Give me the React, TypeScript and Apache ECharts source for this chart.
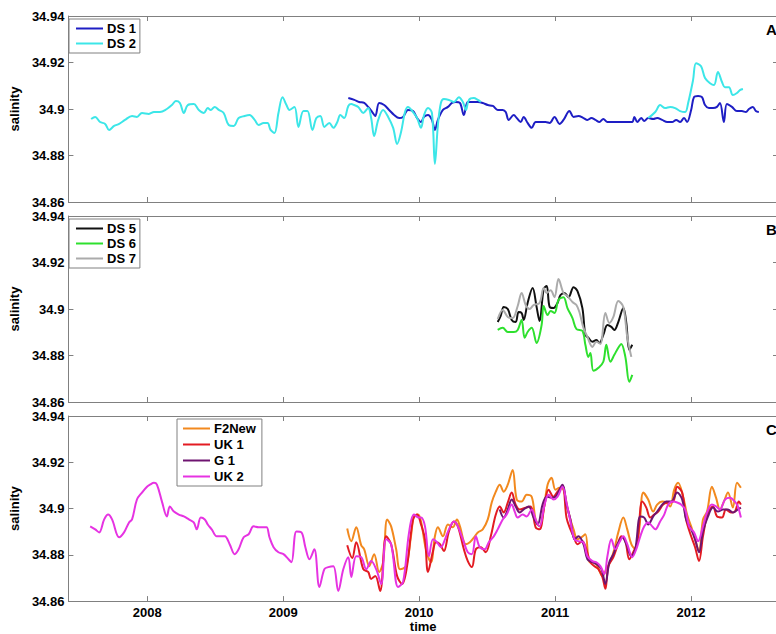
import { useEffect, useRef } from "react";
import * as echarts from "echarts";

// ---------- data: [decimal year, salinity] ----------
const yearTicks = [2008, 2009, 2010, 2011, 2012];
const X_MIN = 2007.42;
const X_MAX = 2012.64;
const Y_MIN = 34.86;
const Y_MAX = 34.94;
const Y_STEP = 0.02;

const ds1 = [
  [2009.479, 34.9047], [2009.523, 34.9039], [2009.559, 34.903], [2009.596, 34.9026], [2009.625, 34.9009],
  [2009.655, 34.8987], [2009.677, 34.897], [2009.706, 34.9026], [2009.743, 34.9017], [2009.779, 34.8996],
  [2009.816, 34.8974], [2009.853, 34.8961], [2009.882, 34.8966], [2009.918, 34.8996], [2009.955, 34.8991],
  [2009.985, 34.8961], [2010.014, 34.8944], [2010.036, 34.8966], [2010.065, 34.8974], [2010.094, 34.8953],
  [2010.116, 34.891], [2010.138, 34.8953], [2010.175, 34.8996], [2010.212, 34.9009], [2010.241, 34.9026],
  [2010.27, 34.903], [2010.3, 34.9026], [2010.329, 34.8974], [2010.358, 34.903], [2010.395, 34.903],
  [2010.432, 34.903], [2010.468, 34.9026], [2010.505, 34.9017], [2010.542, 34.9013], [2010.578, 34.8996],
  [2010.615, 34.8996], [2010.637, 34.8987], [2010.659, 34.8953], [2010.696, 34.8974], [2010.718, 34.8961],
  [2010.747, 34.8944], [2010.769, 34.8966], [2010.798, 34.894], [2010.828, 34.8919], [2010.857, 34.8944],
  [2010.894, 34.8944], [2010.93, 34.8944], [2010.96, 34.894], [2010.996, 34.8966], [2011.033, 34.8936],
  [2011.062, 34.8953], [2011.106, 34.8991], [2011.136, 34.8966], [2011.172, 34.897], [2011.209, 34.8961],
  [2011.238, 34.8953], [2011.267, 34.8961], [2011.297, 34.8953], [2011.326, 34.8944], [2011.355, 34.8957],
  [2011.385, 34.8944], [2011.421, 34.8944], [2011.458, 34.8944], [2011.495, 34.8944], [2011.531, 34.8944],
  [2011.568, 34.8944], [2011.583, 34.8966], [2011.605, 34.8944], [2011.634, 34.8961], [2011.656, 34.8948],
  [2011.685, 34.8961], [2011.722, 34.8957], [2011.751, 34.8961], [2011.788, 34.8953], [2011.825, 34.8944],
  [2011.861, 34.8944], [2011.891, 34.8953], [2011.92, 34.8944], [2011.949, 34.8961], [2011.971, 34.8944],
  [2012.001, 34.8996], [2012.022, 34.9051], [2012.052, 34.9056], [2012.081, 34.9051], [2012.103, 34.9017],
  [2012.132, 34.9004], [2012.162, 34.9004], [2012.191, 34.9009], [2012.213, 34.9026], [2012.242, 34.8944],
  [2012.264, 34.9021], [2012.301, 34.9009], [2012.338, 34.8991], [2012.374, 34.8991], [2012.404, 34.8987],
  [2012.426, 34.9], [2012.455, 34.9009], [2012.477, 34.8991], [2012.499, 34.8987],
];

const ds2 = [
  [2007.587, 34.8957], [2007.617, 34.8966], [2007.653, 34.8944], [2007.69, 34.8936], [2007.719, 34.891],
  [2007.756, 34.8927], [2007.793, 34.8936], [2007.836, 34.8953], [2007.888, 34.897], [2007.924, 34.8966],
  [2007.961, 34.8983], [2008.012, 34.8979], [2008.049, 34.8987], [2008.093, 34.8987], [2008.144, 34.9],
  [2008.181, 34.9017], [2008.21, 34.9034], [2008.24, 34.9026], [2008.269, 34.8983], [2008.298, 34.9017],
  [2008.342, 34.9021], [2008.379, 34.8996], [2008.416, 34.8983], [2008.445, 34.9004], [2008.467, 34.8996],
  [2008.496, 34.9009], [2008.526, 34.8996], [2008.562, 34.8983], [2008.599, 34.8931], [2008.636, 34.8927],
  [2008.672, 34.8961], [2008.716, 34.897], [2008.753, 34.8974], [2008.79, 34.8953], [2008.819, 34.8931],
  [2008.856, 34.894], [2008.885, 34.894], [2008.907, 34.891], [2008.936, 34.8897], [2008.965, 34.8983],
  [2008.995, 34.9051], [2009.024, 34.9017], [2009.046, 34.8996], [2009.083, 34.9009], [2009.112, 34.8923],
  [2009.149, 34.8991], [2009.178, 34.8991], [2009.215, 34.891], [2009.244, 34.8961], [2009.273, 34.897],
  [2009.303, 34.8923], [2009.339, 34.894], [2009.369, 34.8919], [2009.398, 34.8944], [2009.42, 34.8974],
  [2009.449, 34.8961], [2009.479, 34.9013], [2009.501, 34.9021], [2009.523, 34.9017], [2009.552, 34.9009],
  [2009.589, 34.8983], [2009.625, 34.9004], [2009.647, 34.8961], [2009.669, 34.8884], [2009.699, 34.8953],
  [2009.735, 34.8996], [2009.772, 34.8966], [2009.809, 34.8919], [2009.838, 34.885], [2009.867, 34.8901],
  [2009.896, 34.8987], [2009.918, 34.9009], [2009.955, 34.8987], [2009.985, 34.8961], [2010.014, 34.8919],
  [2010.036, 34.8974], [2010.065, 34.9004], [2010.094, 34.8983], [2010.116, 34.8764], [2010.138, 34.8931],
  [2010.16, 34.9026], [2010.182, 34.9043], [2010.219, 34.9039], [2010.256, 34.903], [2010.292, 34.9051],
  [2010.322, 34.903], [2010.344, 34.8996], [2010.366, 34.9039], [2010.402, 34.9047], [2010.432, 34.9039],
  [2010.454, 34.903],
  [2010.46, null],
  [2011.685, 34.8961], [2011.737, 34.8987], [2011.773, 34.9017], [2011.81, 34.9004], [2011.847, 34.9009],
  [2011.883, 34.9004], [2011.92, 34.8991], [2011.957, 34.8987], [2011.979, 34.9026], [2012.015, 34.9124],
  [2012.037, 34.9197], [2012.074, 34.9184], [2012.103, 34.9133], [2012.14, 34.9111], [2012.169, 34.9103],
  [2012.198, 34.9159], [2012.228, 34.9116], [2012.25, 34.9094], [2012.279, 34.9094], [2012.308, 34.906],
  [2012.338, 34.9069], [2012.36, 34.9081], [2012.382, 34.9086],
];

const ds5 = [
  [2010.578, 34.8944], [2010.6, 34.897], [2010.622, 34.9009], [2010.652, 34.9], [2010.681, 34.8953],
  [2010.71, 34.8944], [2010.732, 34.8987], [2010.754, 34.8983], [2010.769, 34.8953], [2010.798, 34.9026],
  [2010.835, 34.909], [2010.864, 34.9009], [2010.886, 34.8948], [2010.916, 34.9086], [2010.938, 34.9099],
  [2010.96, 34.9009], [2010.989, 34.9004], [2011.018, 34.9026], [2011.04, 34.906], [2011.069, 34.9069],
  [2011.099, 34.9051], [2011.136, 34.9094], [2011.165, 34.9077], [2011.201, 34.9004], [2011.223, 34.8889],
  [2011.245, 34.8876], [2011.275, 34.8859], [2011.304, 34.8867], [2011.326, 34.8854], [2011.355, 34.8889],
  [2011.385, 34.8931], [2011.414, 34.8923], [2011.436, 34.891], [2011.465, 34.8944], [2011.502, 34.9004],
  [2011.524, 34.894], [2011.546, 34.8824], [2011.568, 34.8846],
];

const ds6 = [
  [2010.578, 34.891], [2010.615, 34.8919], [2010.652, 34.8901], [2010.696, 34.8901], [2010.725, 34.891],
  [2010.754, 34.8953], [2010.776, 34.8876], [2010.798, 34.8901], [2010.828, 34.8919], [2010.864, 34.8854],
  [2010.901, 34.8931], [2010.916, 34.9013], [2010.945, 34.8974], [2010.967, 34.8991], [2010.996, 34.8983],
  [2011.025, 34.9039], [2011.062, 34.9051], [2011.091, 34.9004], [2011.128, 34.8961], [2011.157, 34.8914],
  [2011.201, 34.8906], [2011.223, 34.8846], [2011.245, 34.8794], [2011.26, 34.8811], [2011.282, 34.8734],
  [2011.319, 34.8747], [2011.355, 34.8773], [2011.377, 34.8846], [2011.407, 34.8773], [2011.436, 34.8803],
  [2011.465, 34.8833], [2011.487, 34.885], [2011.517, 34.8794], [2011.546, 34.8687], [2011.568, 34.8717],
];

const ds7 = [
  [2010.578, 34.8957], [2010.615, 34.8996], [2010.652, 34.8966], [2010.688, 34.8961], [2010.725, 34.9013],
  [2010.754, 34.9069], [2010.784, 34.9017], [2010.813, 34.9], [2010.842, 34.9017], [2010.886, 34.9026],
  [2010.916, 34.909], [2010.938, 34.9069], [2010.967, 34.9081], [2010.996, 34.9051], [2011.025, 34.9129],
  [2011.062, 34.9069], [2011.091, 34.9056], [2011.128, 34.903], [2011.157, 34.9017], [2011.179, 34.8987],
  [2011.209, 34.8919], [2011.238, 34.888], [2011.275, 34.8837], [2011.304, 34.8859], [2011.333, 34.885],
  [2011.37, 34.8983], [2011.399, 34.894], [2011.429, 34.8966], [2011.465, 34.9034], [2011.502, 34.9009],
  [2011.531, 34.888], [2011.561, 34.8794],
];

const f2new = [
  [2009.471, 34.8914], [2009.501, 34.8859], [2009.537, 34.8919], [2009.574, 34.8841], [2009.596, 34.8824],
  [2009.633, 34.8751], [2009.669, 34.8803], [2009.706, 34.8726], [2009.735, 34.8768], [2009.765, 34.8953],
  [2009.794, 34.8923], [2009.831, 34.8824], [2009.86, 34.8738], [2009.904, 34.8751], [2009.94, 34.888],
  [2009.962, 34.8966], [2009.992, 34.8974], [2010.014, 34.8944], [2010.05, 34.8824], [2010.087, 34.8768],
  [2010.116, 34.888], [2010.138, 34.8919], [2010.175, 34.888], [2010.212, 34.8931], [2010.248, 34.8919],
  [2010.278, 34.8953], [2010.3, 34.8923], [2010.344, 34.8846], [2010.373, 34.8854], [2010.41, 34.888],
  [2010.432, 34.8897], [2010.468, 34.891], [2010.505, 34.8953], [2010.534, 34.9026], [2010.564, 34.9073],
  [2010.593, 34.9103], [2010.622, 34.9073], [2010.652, 34.9103], [2010.688, 34.9167], [2010.718, 34.9039],
  [2010.754, 34.903], [2010.791, 34.906], [2010.828, 34.9051], [2010.857, 34.8953], [2010.886, 34.8923],
  [2010.916, 34.8996], [2010.945, 34.9103], [2010.974, 34.9133], [2011.003, 34.9081], [2011.033, 34.909],
  [2011.062, 34.9081], [2011.091, 34.9004], [2011.113, 34.8953], [2011.136, 34.891], [2011.165, 34.8867],
  [2011.194, 34.8876], [2011.223, 34.8889], [2011.253, 34.8768], [2011.282, 34.8768], [2011.311, 34.8751],
  [2011.348, 34.8708], [2011.377, 34.8738], [2011.407, 34.8773], [2011.436, 34.8824], [2011.465, 34.8897],
  [2011.502, 34.8961], [2011.531, 34.891], [2011.561, 34.8846], [2011.59, 34.8824], [2011.619, 34.891],
  [2011.649, 34.9069], [2011.685, 34.9039], [2011.722, 34.8987], [2011.751, 34.9017], [2011.788, 34.903],
  [2011.817, 34.9026], [2011.847, 34.9009], [2011.876, 34.9081], [2011.905, 34.9111], [2011.942, 34.9051],
  [2011.971, 34.8974], [2012.001, 34.8923], [2012.03, 34.8867], [2012.059, 34.8816], [2012.088, 34.8953],
  [2012.118, 34.8987], [2012.154, 34.9094], [2012.184, 34.9047], [2012.213, 34.8996], [2012.242, 34.903],
  [2012.272, 34.9069], [2012.308, 34.9004], [2012.338, 34.9111], [2012.367, 34.909],
];

const uk1 = [
  [2009.471, 34.8841], [2009.508, 34.8786], [2009.537, 34.8854], [2009.589, 34.8738], [2009.625, 34.8726],
  [2009.647, 34.8696], [2009.677, 34.8708], [2009.713, 34.8644], [2009.757, 34.888], [2009.794, 34.8846],
  [2009.838, 34.8708], [2009.875, 34.8674], [2009.911, 34.8751], [2009.955, 34.8953], [2009.985, 34.8974],
  [2010.014, 34.8931], [2010.043, 34.8867], [2010.065, 34.8726], [2010.102, 34.8816], [2010.124, 34.8854],
  [2010.153, 34.8846], [2010.182, 34.8816], [2010.219, 34.8901], [2010.256, 34.8944], [2010.285, 34.8923],
  [2010.329, 34.8824], [2010.358, 34.8773], [2010.388, 34.8747], [2010.417, 34.8824], [2010.454, 34.8833],
  [2010.49, 34.8811], [2010.527, 34.888], [2010.564, 34.8974], [2010.593, 34.9009], [2010.622, 34.8983],
  [2010.652, 34.9026], [2010.681, 34.9069], [2010.71, 34.9017], [2010.74, 34.8996], [2010.784, 34.9004],
  [2010.82, 34.9009], [2010.857, 34.8919], [2010.886, 34.891], [2010.923, 34.9017], [2010.952, 34.9081],
  [2010.989, 34.9051], [2011.018, 34.9073], [2011.055, 34.9094], [2011.084, 34.8961], [2011.113, 34.891],
  [2011.136, 34.888], [2011.165, 34.8846], [2011.201, 34.8859], [2011.223, 34.8837], [2011.26, 34.8768],
  [2011.289, 34.8751], [2011.319, 34.8738], [2011.348, 34.8704], [2011.37, 34.8653], [2011.392, 34.8751],
  [2011.429, 34.879], [2011.458, 34.8837], [2011.487, 34.888], [2011.517, 34.8859], [2011.546, 34.8781],
  [2011.575, 34.8811], [2011.605, 34.8854], [2011.641, 34.903], [2011.671, 34.9004], [2011.7, 34.8961],
  [2011.729, 34.8974], [2011.759, 34.8987], [2011.795, 34.9017], [2011.825, 34.9026], [2011.869, 34.903],
  [2011.898, 34.9094], [2011.935, 34.9069], [2011.964, 34.8953], [2012.001, 34.888], [2012.03, 34.8833],
  [2012.059, 34.8773], [2012.088, 34.888], [2012.125, 34.8983], [2012.162, 34.9009], [2012.191, 34.8966],
  [2012.228, 34.8961], [2012.257, 34.8996], [2012.294, 34.8983], [2012.323, 34.8987], [2012.352, 34.903],
  [2012.367, 34.9017],
];

const g1 = [
  [2010.593, 34.8996], [2010.622, 34.8961], [2010.652, 34.8996], [2010.681, 34.9039], [2010.71, 34.9009],
  [2010.74, 34.8983], [2010.769, 34.8996], [2010.806, 34.9009], [2010.842, 34.8961], [2010.872, 34.8931],
  [2010.908, 34.9017], [2010.938, 34.9051], [2010.974, 34.9047], [2011.003, 34.9051], [2011.055, 34.9103],
  [2011.084, 34.9017], [2011.113, 34.8953], [2011.143, 34.8867], [2011.172, 34.888], [2011.209, 34.8846],
  [2011.238, 34.8781], [2011.275, 34.8768], [2011.304, 34.876], [2011.341, 34.8738], [2011.37, 34.8674],
  [2011.399, 34.8768], [2011.429, 34.8803], [2011.458, 34.8846], [2011.495, 34.8876], [2011.524, 34.8846],
  [2011.561, 34.8794], [2011.59, 34.8824], [2011.627, 34.8966], [2011.656, 34.8961], [2011.685, 34.8931],
  [2011.722, 34.8966], [2011.751, 34.8987], [2011.788, 34.9017], [2011.817, 34.903], [2011.854, 34.903],
  [2011.898, 34.9069], [2011.935, 34.9039], [2011.964, 34.8953], [2012.001, 34.891], [2012.03, 34.8867],
  [2012.059, 34.8811], [2012.088, 34.8901], [2012.125, 34.8966], [2012.162, 34.9004], [2012.198, 34.8987],
  [2012.235, 34.8996], [2012.272, 34.8996], [2012.308, 34.8983], [2012.345, 34.8996], [2012.367, 34.9004],
];

const uk2 = [
  [2007.58, 34.8923], [2007.617, 34.891], [2007.646, 34.8897], [2007.683, 34.8953], [2007.712, 34.8974],
  [2007.741, 34.8953], [2007.793, 34.8876], [2007.829, 34.8897], [2007.866, 34.894], [2007.888, 34.8953],
  [2007.924, 34.9039], [2007.961, 34.9069], [2007.998, 34.9094], [2008.02, 34.9103], [2008.049, 34.9111],
  [2008.071, 34.9103], [2008.108, 34.903], [2008.144, 34.8966], [2008.166, 34.9009], [2008.196, 34.8987],
  [2008.232, 34.8974], [2008.269, 34.8966], [2008.306, 34.8953], [2008.342, 34.894], [2008.364, 34.891],
  [2008.394, 34.8961], [2008.423, 34.8953], [2008.445, 34.8931], [2008.474, 34.891], [2008.511, 34.888],
  [2008.54, 34.888], [2008.57, 34.888], [2008.606, 34.8846], [2008.643, 34.8803], [2008.672, 34.8824],
  [2008.709, 34.8876], [2008.746, 34.8889], [2008.782, 34.8923], [2008.819, 34.8919], [2008.856, 34.8919],
  [2008.878, 34.8919], [2008.899, 34.8876], [2008.929, 34.8833], [2008.965, 34.8811], [2009.002, 34.8803],
  [2009.039, 34.8781], [2009.061, 34.8768], [2009.097, 34.8901], [2009.134, 34.8897], [2009.163, 34.8833],
  [2009.193, 34.8781], [2009.229, 34.8824], [2009.266, 34.8661], [2009.303, 34.8738], [2009.332, 34.8747],
  [2009.369, 34.8751], [2009.405, 34.8644], [2009.442, 34.8738], [2009.479, 34.879], [2009.501, 34.8704],
  [2009.537, 34.8794], [2009.574, 34.879], [2009.611, 34.8738], [2009.647, 34.8773], [2009.684, 34.8738],
  [2009.721, 34.8674], [2009.757, 34.8867], [2009.794, 34.8846], [2009.845, 34.8661], [2009.882, 34.8683],
  [2009.926, 34.8897], [2009.962, 34.8974], [2009.999, 34.8961], [2010.014, 34.8961], [2010.043, 34.8923],
  [2010.072, 34.8794], [2010.102, 34.8867], [2010.131, 34.8854], [2010.16, 34.8833], [2010.19, 34.8867],
  [2010.219, 34.891], [2010.256, 34.8944], [2010.285, 34.8923], [2010.329, 34.8854], [2010.358, 34.8811],
  [2010.388, 34.8803], [2010.417, 34.888], [2010.446, 34.8833], [2010.483, 34.8824], [2010.512, 34.8854],
  [2010.549, 34.888], [2010.578, 34.891], [2010.615, 34.8953], [2010.644, 34.8974], [2010.681, 34.9017],
  [2010.703, 34.8987], [2010.725, 34.8961], [2010.762, 34.8974], [2010.791, 34.8966], [2010.828, 34.8996],
  [2010.857, 34.8953], [2010.886, 34.8923], [2010.923, 34.9017], [2010.952, 34.906], [2010.989, 34.9039],
  [2011.018, 34.9051], [2011.055, 34.9094], [2011.084, 34.9026], [2011.113, 34.8944], [2011.143, 34.8867],
  [2011.172, 34.8859], [2011.209, 34.8854], [2011.238, 34.8794], [2011.275, 34.8773], [2011.304, 34.8768],
  [2011.333, 34.8751], [2011.363, 34.8717], [2011.385, 34.8794], [2011.414, 34.8867], [2011.443, 34.8824],
  [2011.473, 34.8854], [2011.502, 34.888], [2011.531, 34.8846], [2011.568, 34.879], [2011.597, 34.8824],
  [2011.627, 34.888], [2011.656, 34.8923], [2011.685, 34.894], [2011.715, 34.8923], [2011.737, 34.891],
  [2011.773, 34.8944], [2011.803, 34.8974], [2011.832, 34.9017], [2011.869, 34.903], [2011.898, 34.9026],
  [2011.927, 34.9017], [2011.957, 34.8996], [2011.986, 34.8923], [2012.022, 34.8897], [2012.052, 34.8859],
  [2012.088, 34.8923], [2012.118, 34.8983], [2012.154, 34.9017], [2012.184, 34.9009], [2012.213, 34.8996],
  [2012.25, 34.9039], [2012.286, 34.9047], [2012.323, 34.903], [2012.345, 34.9009], [2012.367, 34.8961],
];

// ---------- styling ----------
const FONT = "'Liberation Sans', Arial, Helvetica, sans-serif";
const AXIS_COLOR = "#808080";
const panelTops = [16, 216, 416];
const PANEL_H = 186;
const panelLabels = ["A", "B", "C"];
const LINE_ICON = "path://M0,0H27V2H0Z";

function makeOption() {
  const grids = panelTops.map((t) => ({ left: 66, right: 22, top: t, height: PANEL_H }));

  const xAxes: any[] = [];
  const yAxes: any[] = [];
  panelTops.forEach((_, i) => {
    const last = i === panelTops.length - 1;
    const common = {
      type: "value",
      gridIndex: i,
      min: X_MIN,
      max: X_MAX,
      splitLine: { show: false },
      axisLine: { show: true, onZero: false, lineStyle: { color: AXIS_COLOR, width: 1 } },
      axisTick: { show: true, inside: true, length: 5, customValues: yearTicks, lineStyle: { color: AXIS_COLOR } },
    };
    xAxes.push({
      ...common,
      position: "bottom",
      axisLabel: {
        show: last,
        customValues: yearTicks,
        margin: 5,
        color: "#000",
        fontWeight: "bold",
        fontSize: 13,
        fontFamily: FONT,
        formatter: (v: number) => String(Math.round(v)),
      },
      name: last ? "time" : "",
      nameLocation: "middle",
      nameGap: 17,
      nameTextStyle: { color: "#000", fontWeight: "bold", fontSize: 13, fontFamily: FONT },
    });
    xAxes.push({ ...common, position: "top", axisLabel: { show: false } });

    const ycommon = {
      type: "value",
      gridIndex: i,
      min: Y_MIN,
      max: Y_MAX,
      interval: Y_STEP,
      splitLine: { show: false },
      axisLine: { show: true, onZero: false, lineStyle: { color: AXIS_COLOR, width: 1 } },
      axisTick: { show: true, inside: true, length: 5, lineStyle: { color: AXIS_COLOR } },
    };
    yAxes.push({
      ...ycommon,
      position: "left",
      axisLabel: {
        show: true,
        margin: 4,
        color: "#000",
        fontWeight: "bold",
        fontSize: 13,
        fontFamily: FONT,
        showMinLabel: true,
        showMaxLabel: true,
        formatter: (v: number) => String(parseFloat(v.toFixed(2))),
      },
      name: "salinity",
      nameLocation: "middle",
      nameGap: 40,
      nameTextStyle: { color: "#000", fontWeight: "bold", fontSize: 13, fontFamily: FONT },
    });
    yAxes.push({ ...ycommon, position: "right", axisLabel: { show: false } });
  });

  const line = (name: string, data: any[], color: string, panel: number) => ({
    name,
    type: "line",
    data,
    xAxisIndex: panel * 2,
    yAxisIndex: panel * 2,
    symbol: "none",
    showSymbol: false,
    smooth: 0.35,
    connectNulls: false,
    lineStyle: { color, width: 2 },
    itemStyle: { color },
    emphasis: { disabled: true },
  });

  const series = [
    line("DS 1", ds1, "#1e1ec4", 0),
    line("DS 2", ds2, "#3ce6e8", 0),
    line("DS 5", ds5, "#111111", 1),
    line("DS 6", ds6, "#2ee02e", 1),
    line("DS 7", ds7, "#ababab", 1),
    line("F2New", f2new, "#f2891e", 2),
    line("UK 1", uk1, "#e31b22", 2),
    line("G 1", g1, "#6e1470", 2),
    line("UK 2", uk2, "#e633e2", 2),
  ];

  const legendBase = {
    orient: "vertical",
    backgroundColor: "#fff",
    borderColor: AXIS_COLOR,
    borderWidth: 1,
    borderRadius: 0,
    itemWidth: 27,
    itemHeight: 14,
    itemGap: 2,
    padding: [3, 4, 3, 7],
    selectedMode: false,
    icon: LINE_ICON,
    textStyle: { color: "#000", fontWeight: "bold", fontSize: 13, fontFamily: FONT, padding: [0, 0, 0, -1] },
  };

  const legends = [
    { ...legendBase, left: 69, top: 19, data: ["DS 1", "DS 2"] },
    { ...legendBase, left: 69, top: 219, data: ["DS 5", "DS 6", "DS 7"] },
    { ...legendBase, left: 177, top: 419, itemGap: 3, padding: [3, 6, 3, 6], data: ["F2New", "UK 1", "G 1", "UK 2"] },
  ];

  const graphics = panelLabels.map((t, i) => ({
    type: "text",
    left: 766,
    top: panelTops[i] + 6,
    style: { text: t, fill: "#000", font: `bold 15px ${FONT}` },
  }));

  return {
    animation: false,
    backgroundColor: "#fff",
    grid: grids,
    xAxis: xAxes,
    yAxis: yAxes,
    legend: legends,
    series,
    graphic: graphics,
  };
}

export default function App() {
  const ref = useRef<HTMLDivElement>(null);
  useEffect(() => {
    if (!ref.current) return;
    const chart = echarts.init(ref.current, null, { renderer: "svg" });
    chart.setOption(makeOption() as any);
    return () => chart.dispose();
  }, []);
  return (
    <div
      style={{
        position: "fixed",
        left: 0,
        top: 0,
        width: 776,
        height: 634,
        overflow: "hidden",
        background: "#fff",
      }}
    >
      <div ref={ref} style={{ width: 800, height: 634 }} />
    </div>
  );
}
